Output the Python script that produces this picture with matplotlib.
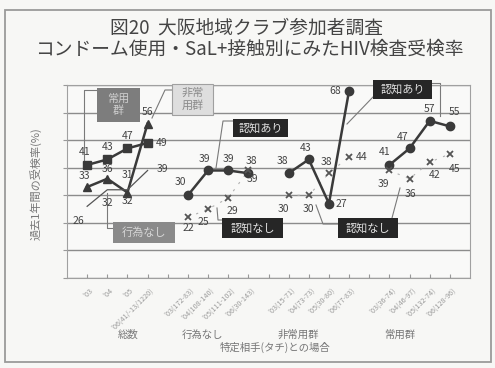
import matplotlib.pyplot as plt
from matplotlib.patches import Rectangle

plt.rcParams['font.family'] = ['Noto Sans CJK JP', 'DejaVu Sans']

# category slots on the x axis (gaps at 5, 10, 15 split the groups)
total_x = [1, 2, 3, 4]
noact_x = [6, 7, 8, 9]
irreg_x = [11, 12, 13, 14]
reg_x = [16, 17, 18, 19]

tick_labels = ["'03", "'04", "'05", "'06(41/-13/1220)",
               "'03(172-83)", "'04(108-140)", "'05(111-102)", "'06(30-143)",
               "'03(15-71)", "'04(73-73)", "'05(30-80)", "'06(77-83)",
               "'03(36-74)", "'04(46-97)", "'05(132-74)", "'06(128-96)"]
group_names = ['総数', '行為なし', '非常用群', '常用群']

# 総数
total_regular = [41, 43, 47, 49]     # 常用群
total_irregular = [33, 36, 31, 56]   # 非常用群
total_noact = [26, 32, 32, 39]       # 行為なし
# 行為なし
noact_aware = [30, 39, 39, 38]
noact_unaware = [22, 25, 29, 39]
# 非常用群
irreg_aware = [38, 43, 27, 68]
irreg_unaware = [30, 30, 38, 44]
# 常用群
reg_aware = [41, 47, 57, 55]
reg_unaware = [39, 36, 42, 45]

W, H = 495, 368
fig = plt.figure(figsize=(W / 100, H / 100), dpi=100, facecolor='#f7f7f5')
ax = fig.add_axes([67 / W, (H - 278) / H, 403 / W, 193 / H])
ax.set_facecolor('#f9f9f8')
ax.set_xlim(0, 20)
ax.set_ylim(0, 70)


def px(x, y):
    # pixel position -> data coords, for callouts only
    return (x - 67) / 403 * 20, (278 - y) / 193 * 70


# frame around the whole chart
fig.patches.append(Rectangle((5 / W, 6 / H), 486 / W, 352 / H, transform=fig.transFigure,
                             fill=False, ec='#9a9a9a', lw=1.3))

ax.set_yticks(range(0, 71, 10))
ax.set_yticklabels([])
ax.tick_params(axis='y', direction='out', length=3, color='#999')
ax.yaxis.grid(True, color='#8c8c8c', lw=1.0)
ax.set_axisbelow(True)
for s in ax.spines.values():
    s.set_color('#a0a0a0')

slots = total_x + noact_x + irreg_x + reg_x
ax.set_xticks(range(1, 20))
ax.set_xticklabels([])
ax.tick_params(axis='x', direction='in', length=3, color='#999')
for x, lab in zip(slots, tick_labels):
    ax.text(x + 0.1, -3, lab, rotation=45, ha='right', va='top', rotation_mode='anchor',
            fontsize=5.2, color='#9a9a9a', clip_on=False)

dark = '#3a3a3a'
ax.plot(total_x, total_regular, color=dark, lw=1.8, marker='s', ms=5.5, zorder=3)
ax.plot(total_x, total_irregular, color=dark, lw=1.8, marker='^', ms=6, zorder=3)
ax.plot(total_x, total_noact, color='#555', lw=0.9, zorder=3)
for xs, ys in [(noact_x, noact_aware), (irreg_x, irreg_aware), (reg_x, reg_aware)]:
    ax.plot(xs, ys, color=dark, lw=1.8, marker='o', ms=6, zorder=3)
for xs, ys in [(noact_x, noact_unaware), (irreg_x, irreg_unaware), (reg_x, reg_unaware)]:
    ax.plot(xs, ys, color='#b0b0b0', lw=0.8, ls=(0, (2, 6)), zorder=2)
    ax.plot(xs, ys, ls='none', marker='x', ms=4.5, mew=1.3, color='#555', zorder=3)


def value_labels(xs, ys, offs):
    for x, y, (dx, dy, ha) in zip(xs, ys, offs):
        ax.annotate(str(y), (x, y), xytext=(dx, dy), textcoords='offset pixels',
                    ha=ha, va='center', fontsize=7.5, color='#444')


value_labels(total_x, total_regular, [(-3, 13, 'center'), (0, 12, 'center'), (0, 12, 'center'), (8, 0, 'left')])
value_labels(total_x, total_irregular, [(-3, 11, 'center'), (0, 10, 'center'), (0, 18, 'center'), (0, 12, 'center')])
value_labels(total_x, total_noact, [(-9, -15, 'center'), (0, -13, 'center'), (0, -11, 'center'), (9, 1, 'left')])
value_labels(noact_x, noact_aware, [(-7, 13, 'center'), (-4, 11, 'center'), (0, 11, 'center'), (3, 12, 'center')])
value_labels(noact_x, noact_unaware, [(1, -11, 'center'), (-5, -13, 'center'), (4, -13, 'center'), (4, -9, 'center')])
value_labels(irreg_x, irreg_aware, [(-6, 12, 'center'), (-3, 11, 'center'), (7, 0, 'left'), (-8, 0, 'right')])
value_labels(irreg_x, irreg_unaware, [(-5, -14, 'center'), (0, -14, 'center'), (-2, 11, 'center'), (7, 0, 'left')])
value_labels(reg_x, reg_aware, [(-5, 13, 'center'), (-7, 11, 'center'), (0, 12, 'center'), (5, 14, 'center')])
value_labels(reg_x, reg_unaware, [(-6, -14, 'center'), (1, -15, 'center'), (5, -13, 'center'), (5, -15, 'center')])

# callout boxes: (left, top, right, bottom) in pixels, fill, text colour
boxes = [
    ('常用\n群', (97, 88, 140, 122), '#7d7d7d', '#cfcfcf', 'none'),
    ('非常\n用群', (172, 84, 213, 115), '#dedede', '#8a8a8a', '#a0a0a0'),
    ('行為なし', (113, 222, 175, 243), '#8a8a8a', '#d6d6d6', 'none'),
    ('認知あり', (233, 119, 288, 137), '#262626', '#e2e2e2', 'none'),
    ('認知なし', (222, 218, 283, 238), '#262626', '#e2e2e2', 'none'),
    ('認知あり', (373, 80, 432, 99), '#262626', '#e2e2e2', 'none'),
    ('認知なし', (338, 218, 398, 238), '#262626', '#e2e2e2', 'none'),
]
for text, (l, t, r, b), fc, tc, ec in boxes:
    x0, y0 = px(l, b)
    x1, y1 = px(r, t)
    ax.add_patch(Rectangle((x0, y0), x1 - x0, y1 - y0, fc=fc, ec=ec, lw=0.8,
                           zorder=4, clip_on=False))
    ax.text((x0 + x1) / 2, (y0 + y1) / 2, text, ha='center', va='center', fontsize=8,
            color=tc, linespacing=1.25, zorder=5, clip_on=False)

leaders = [
    [(97, 90), (84, 90), (84, 160)],
    [(172, 90), (165, 90), (152, 118)],
    [(113, 228), (107, 228), (107, 193)],
    [(233, 121), (223, 121), (216, 168)],
    [(222, 220), (218, 220), (217, 208)],
    [(373, 97), (347, 124)],
    [(432, 83), (440, 83), (440, 116)],
    [(338, 224), (323, 224), (316, 205)],
    [(392, 218), (400, 188)],
]
for pts in leaders:
    xy = [px(x, y) for x, y in pts]
    ax.plot([p[0] for p in xy], [p[1] for p in xy], color='#7a7a7a', lw=0.8,
            zorder=2, clip_on=False)

fig.text(247 / W, 1 - 28 / H, '図20  大阪地域クラブ参加者調査', ha='center', va='center',
         fontsize=13.5, color='#444')
fig.text(249 / W, 1 - 49 / H, 'コンドーム使用・SaL+接触別にみたHIV検査受検率', ha='center',
         va='center', fontsize=13.5, color='#444')

fig.text(36 / W, 1 - 184 / H, '過去1年間の受検率(%)', rotation=90, ha='center', va='center',
         fontsize=8, color='#777')

for name, xp in zip(group_names, [128, 202, 298, 400]):
    fig.text(xp / W, 1 - 335 / H, name, ha='center', va='center', fontsize=7.5, color='#777')
fig.text(275 / W, 1 - 347 / H, '特定相手(タチ)との場合', ha='center', va='center',
         fontsize=7.5, color='#777')

fig.savefig('out.png', dpi=100, facecolor=fig.get_facecolor())
